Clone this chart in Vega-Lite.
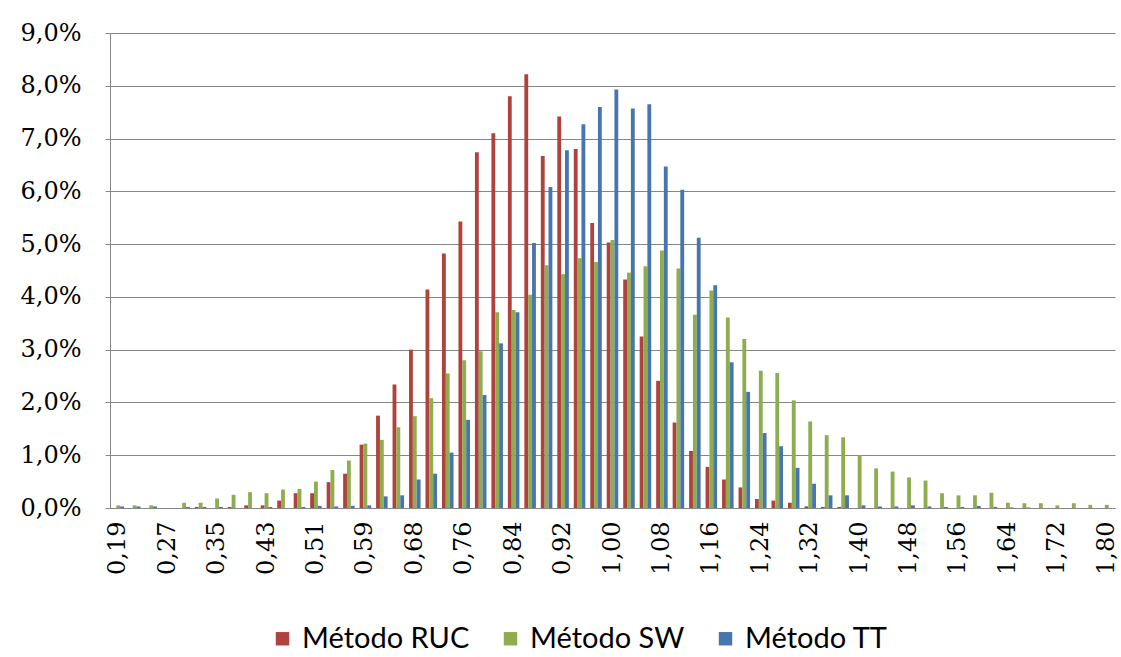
{
  "$schema": "https://vega.github.io/schema/vega-lite/v6.json",
  "autosize": "none",
  "width": 1005,
  "height": 475,
  "padding": {"left": 110, "top": 33, "right": 6, "bottom": 149},
  "background": "white",
  "data": {
    "values": [
      {"x": "0,19", "RUC": 0, "SW": 0.05, "TT": 0.03},
      {"x": "0,22", "RUC": 0, "SW": 0.05, "TT": 0.03},
      {"x": "0,25", "RUC": 0, "SW": 0.05, "TT": 0.03},
      {"x": "0,27", "RUC": 0, "SW": 0, "TT": 0},
      {"x": "0,30", "RUC": 0, "SW": 0.1, "TT": 0.02},
      {"x": "0,33", "RUC": 0.02, "SW": 0.1, "TT": 0.02},
      {"x": "0,35", "RUC": 0, "SW": 0.18, "TT": 0.02},
      {"x": "0,38", "RUC": 0.02, "SW": 0.25, "TT": 0},
      {"x": "0,41", "RUC": 0.05, "SW": 0.3, "TT": 0},
      {"x": "0,43", "RUC": 0.05, "SW": 0.28, "TT": 0.02},
      {"x": "0,46", "RUC": 0.14, "SW": 0.35, "TT": 0},
      {"x": "0,49", "RUC": 0.28, "SW": 0.36, "TT": 0.02},
      {"x": "0,51", "RUC": 0.28, "SW": 0.5, "TT": 0.04},
      {"x": "0,54", "RUC": 0.49, "SW": 0.72, "TT": 0.03},
      {"x": "0,57", "RUC": 0.65, "SW": 0.9, "TT": 0.04},
      {"x": "0,59", "RUC": 1.2, "SW": 1.22, "TT": 0.05},
      {"x": "0,62", "RUC": 1.75, "SW": 1.29, "TT": 0.22},
      {"x": "0,65", "RUC": 2.34, "SW": 1.53, "TT": 0.24},
      {"x": "0,68", "RUC": 3.0, "SW": 1.74, "TT": 0.54},
      {"x": "0,70", "RUC": 4.14, "SW": 2.08, "TT": 0.65},
      {"x": "0,73", "RUC": 4.82, "SW": 2.55, "TT": 1.05},
      {"x": "0,76", "RUC": 5.43, "SW": 2.8, "TT": 1.67},
      {"x": "0,78", "RUC": 6.74, "SW": 2.97, "TT": 2.14},
      {"x": "0,81", "RUC": 7.1, "SW": 3.71, "TT": 3.12},
      {"x": "0,84", "RUC": 7.8, "SW": 3.75, "TT": 3.71},
      {"x": "0,86", "RUC": 8.22, "SW": 4.04, "TT": 5.02},
      {"x": "0,89", "RUC": 6.67, "SW": 4.6, "TT": 6.08},
      {"x": "0,92", "RUC": 7.42, "SW": 4.43, "TT": 6.78},
      {"x": "0,94", "RUC": 6.8, "SW": 4.73, "TT": 7.27},
      {"x": "0,97", "RUC": 5.4, "SW": 4.66, "TT": 7.6},
      {"x": "1,00", "RUC": 5.03, "SW": 5.08, "TT": 7.93},
      {"x": "1,02", "RUC": 4.33, "SW": 4.46, "TT": 7.57},
      {"x": "1,05", "RUC": 3.25, "SW": 4.58, "TT": 7.65},
      {"x": "1,08", "RUC": 2.41, "SW": 4.88, "TT": 6.47},
      {"x": "1,10", "RUC": 1.62, "SW": 4.54, "TT": 6.03},
      {"x": "1,13", "RUC": 1.08, "SW": 3.66, "TT": 5.12},
      {"x": "1,16", "RUC": 0.78, "SW": 4.12, "TT": 4.22},
      {"x": "1,18", "RUC": 0.54, "SW": 3.61, "TT": 2.76},
      {"x": "1,21", "RUC": 0.39, "SW": 3.2, "TT": 2.2},
      {"x": "1,24", "RUC": 0.17, "SW": 2.6, "TT": 1.42},
      {"x": "1,26", "RUC": 0.14, "SW": 2.56, "TT": 1.17},
      {"x": "1,29", "RUC": 0.1, "SW": 2.04, "TT": 0.76},
      {"x": "1,32", "RUC": 0.03, "SW": 1.64, "TT": 0.46},
      {"x": "1,35", "RUC": 0.02, "SW": 1.38, "TT": 0.24},
      {"x": "1,37", "RUC": 0.02, "SW": 1.34, "TT": 0.24},
      {"x": "1,40", "RUC": 0, "SW": 1.0, "TT": 0.05},
      {"x": "1,43", "RUC": 0, "SW": 0.75, "TT": 0.03},
      {"x": "1,45", "RUC": 0, "SW": 0.69, "TT": 0.03},
      {"x": "1,48", "RUC": 0, "SW": 0.58, "TT": 0.05},
      {"x": "1,51", "RUC": 0, "SW": 0.52, "TT": 0.03},
      {"x": "1,53", "RUC": 0, "SW": 0.28, "TT": 0.02},
      {"x": "1,56", "RUC": 0, "SW": 0.24, "TT": 0.02},
      {"x": "1,59", "RUC": 0, "SW": 0.24, "TT": 0.04},
      {"x": "1,61", "RUC": 0, "SW": 0.29, "TT": 0.02},
      {"x": "1,64", "RUC": 0, "SW": 0.1, "TT": 0.01},
      {"x": "1,67", "RUC": 0, "SW": 0.09, "TT": 0.01},
      {"x": "1,69", "RUC": 0, "SW": 0.09, "TT": 0},
      {"x": "1,72", "RUC": 0, "SW": 0.05, "TT": 0},
      {"x": "1,75", "RUC": 0, "SW": 0.09, "TT": 0},
      {"x": "1,77", "RUC": 0, "SW": 0.06, "TT": 0},
      {"x": "1,80", "RUC": 0, "SW": 0.06, "TT": 0}
    ]
  },
  "transform": [
    {"fold": ["RUC", "SW", "TT"], "as": ["metodo", "pct"]},
    {"lookup": "metodo", "from": {"data": {"values": [
      {"metodo": "RUC", "serie": "Método RUC"},
      {"metodo": "SW", "serie": "Método SW"},
      {"metodo": "TT", "serie": "Método TT"}
    ]}, "key": "metodo", "fields": ["serie"]}}
  ],
  "mark": {"type": "bar", "stroke": null},
  "encoding": {
    "x": {
      "field": "x",
      "type": "ordinal",
      "sort": null,
      "title": null,
      "scale": {"paddingInner": 0.3, "paddingOuter": 0.15},
      "axis": {
        "values": ["0,19","0,27","0,35","0,43","0,51","0,59","0,68","0,76","0,84","0,92","1,00","1,08","1,16","1,24","1,32","1,40","1,48","1,56","1,64","1,72","1,80"],
        "labelAngle": -90,
        "labelAlign": "right",
        "labelBaseline": "middle",
        "labelFont": "DejaVu Serif",
        "labelFontSize": 24,
        "labelColor": "#000000",
        "labelPadding": 13,
        "ticks": false,
        "domainColor": "#868686",
        "grid": false
      }
    },
    "xOffset": {
      "field": "serie",
      "type": "nominal",
      "sort": ["Método RUC", "Método SW", "Método TT"],
      "scale": {"paddingInner": 0, "paddingOuter": 0}
    },
    "y": {
      "field": "pct",
      "type": "quantitative",
      "title": null,
      "scale": {"domain": [0, 9], "nice": false},
      "axis": {
        "values": [0,1,2,3,4,5,6,7,8,9],
        "labelExpr": "replace(format(datum.value, '.1f'), '.', ',') + '%'",
        "labelFont": "DejaVu Serif",
        "labelFontSize": 24,
        "labelColor": "#000000",
        "labelPadding": 24,
        "tickSize": 5,
        "tickColor": "#868686",
        "domainColor": "#868686",
        "gridColor": "#868686",
        "gridWidth": 1
      }
    },
    "color": {
      "field": "serie",
      "type": "nominal",
      "scale": {
        "domain": ["Método RUC", "Método SW", "Método TT"],
        "range": ["#B0423D", "#8FAD4E", "#4775AD"]
      },
      "legend": {
        "title": null,
        "orient": "none",
        "legendX": 158,
        "legendY": 591,
        "direction": "horizontal",
        "symbolType": "square",
        "symbolSize": 180,
        "symbolStrokeWidth": 0,
        "labelFont": "Lato",
        "labelFontSize": 29,
        "labelLimit": 400,
        "labelColor": "#000000",
        "columnPadding": 26,
        "labelOffset": 5
      }
    }
  },
  "config": {
    "view": {"stroke": null}
  }
}
